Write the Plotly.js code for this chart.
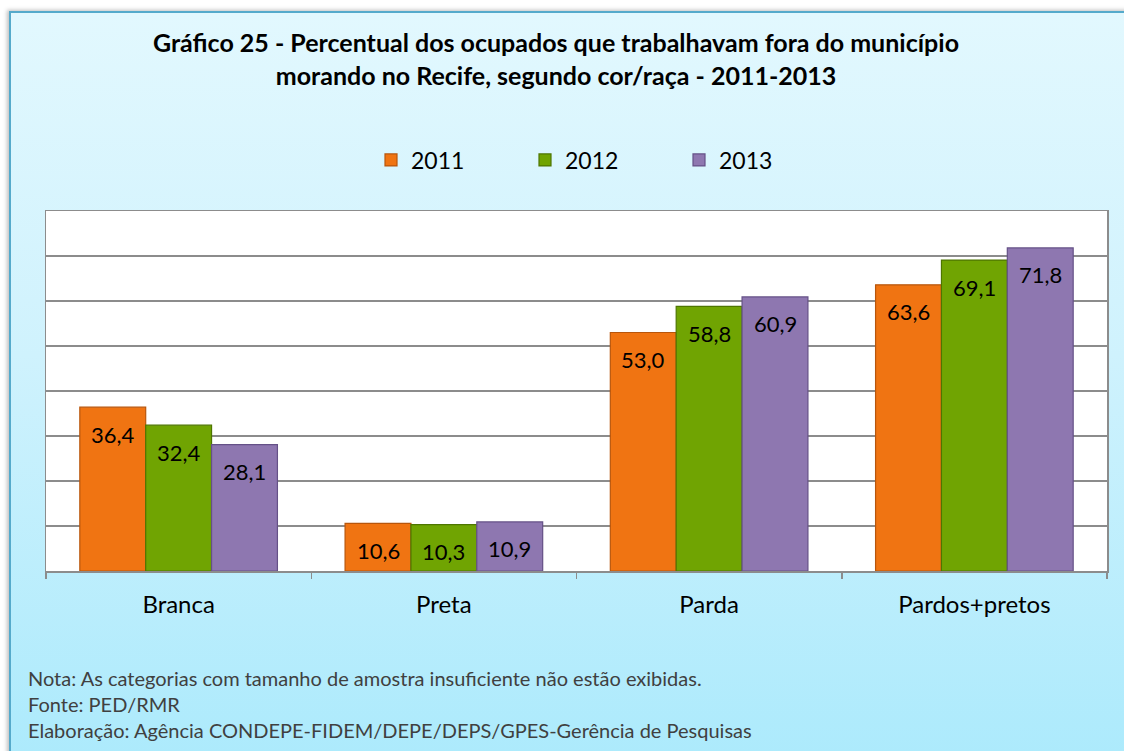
<!DOCTYPE html>
<html>
<head>
<meta charset="utf-8">
<script src="https://cdn.plot.ly/plotly-3.0.1.min.js"></script>
<style>
  html, body { margin: 0; padding: 0; background: #ffffff; width: 1124px; height: 751px; overflow: hidden; }
  #frame {
    position: absolute; left: 9px; top: 11px; width: 1130px; height: 760px;
    background: linear-gradient(to bottom, #E2F8FE 0%, #CFF2FD 45%, #ABEAFC 100%);
    border-top: 2px solid #55AACB; border-left: 2px solid #55AACB;
    box-shadow: -2px -1px 4px rgba(0,0,0,0.25);
  }
  #chart { position: absolute; left: 0; top: 0; width: 1124px; height: 751px; }
</style>
</head>
<body>
<div id="frame"></div>
<div id="chart"></div>
<script>
const categories = ["Branca", "Preta", "Parda", "Pardos+pretos"];
const seriesNames = ["2011", "2012", "2013"];
const values2011 = [36.4, 10.6, 53.0, 63.6];
const values2012 = [32.4, 10.3, 58.8, 69.1];
const values2013 = [28.1, 10.9, 60.9, 71.8];
const footnotes = [
  "Nota: As categorias com tamanho de amostra insuficiente não estão exibidas.",
  "Fonte: PED/RMR",
  "Elaboração: Agência CONDEPE-FIDEM/DEPE/DEPS/GPES-Gerência de Pesquisas"
];

const fills = ["#F07412", "#70A402", "#8E77B0"];
const edges = ["#B8560C", "#4E7600", "#655187"];
const allValues = [values2011, values2012, values2013];

const FONT = "Lato, 'Open Sans', sans-serif";

const M = { l: 46, r: 17, t: 211, b: 180 };
const plotW = 1124 - M.l - M.r;
const plotH = 751 - M.t - M.b;
const BARGAP = 0.255;
const barPx = plotW / categories.length * (1 - BARGAP) / seriesNames.length;

const traces = allValues.map((vals, i) => ({
  type: "bar",
  name: seriesNames[i],
  x: categories,
  y: vals,
  marker: { color: fills[i], line: { color: edges[i], width: 1.2 } },
  textposition: "none",
  hoverinfo: "skip"
}));

const annotations = [];
allValues.forEach((vals, i) => {
  vals.forEach((v, j) => {
    annotations.push({
      xref: "x", yref: "y",
      x: categories[j], y: v,
      xshift: (i - (seriesNames.length - 1) / 2) * barPx,
      yshift: -27, yanchor: "middle",
      text: v.toFixed(1).replace(".", ","),
      showarrow: false,
      font: { family: FONT, size: 22, color: "#000000" }
    });
  });
});

footnotes.forEach((t, i) => {
  annotations.push({
    text: t,
    xref: "paper", yref: "paper",
    x: (26 - M.l) / plotW, xanchor: "left",
    y: (571 - (678 + i * 26)) / plotH, yanchor: "middle",
    showarrow: false,
    font: { family: FONT, size: 20, color: "#404040" }
  });
});

const layout = {
  width: 1124, height: 751,
  margin: M,
  paper_bgcolor: "rgba(0,0,0,0)",
  plot_bgcolor: "#FFFFFF",
  separators: ",.",
  barmode: "group",
  bargap: BARGAP,
  bargroupgap: 0,
  showlegend: true,
  title: {
    text: "<b>Gráfico 25 - Percentual dos ocupados que trabalhavam fora do município<br>morando no Recife, segundo cor/raça - 2011-2013</b>",
    font: { family: FONT, size: 25, color: "#000000" },
    xref: "container", x: 556 / 1124, xanchor: "center",
    yref: "container", y: 1 - 52 / 751, yanchor: "top"
  },
  legend: {
    orientation: "h",
    xref: "paper", yref: "paper",
    x: (371 - M.l) / plotW, xanchor: "left",
    y: (571 - 160) / plotH, yanchor: "middle",
    bgcolor: "rgba(0,0,0,0)",
    font: { family: FONT, size: 23, color: "#000000" },
    entrywidth: 109, entrywidthmode: "pixels",
    itemwidth: 30,
    traceorder: "normal"
  },
  xaxis: {
    type: "category",
    showgrid: false,
    showline: true, linecolor: "#8C8C8C", linewidth: 1.5,
    mirror: true,
    ticks: "outside", tickson: "boundaries", ticklen: 6, tickcolor: "#8C8C8C", tickwidth: 1.5,
    ticklabelstandoff: 12,
    tickfont: { family: FONT, size: 24, color: "#000000" },
    fixedrange: true
  },
  yaxis: {
    range: [0, 80], dtick: 10, tick0: 0,
    showgrid: true, gridcolor: "#8C8C8C", gridwidth: 1.5,
    showline: true, linecolor: "#8C8C8C", linewidth: 1.5,
    mirror: true,
    showticklabels: false, ticks: "",
    zeroline: false,
    fixedrange: true
  },
  annotations: annotations
};

Plotly.newPlot("chart", traces, layout, { staticPlot: true, displayModeBar: false });
</script>
</body>
</html>
